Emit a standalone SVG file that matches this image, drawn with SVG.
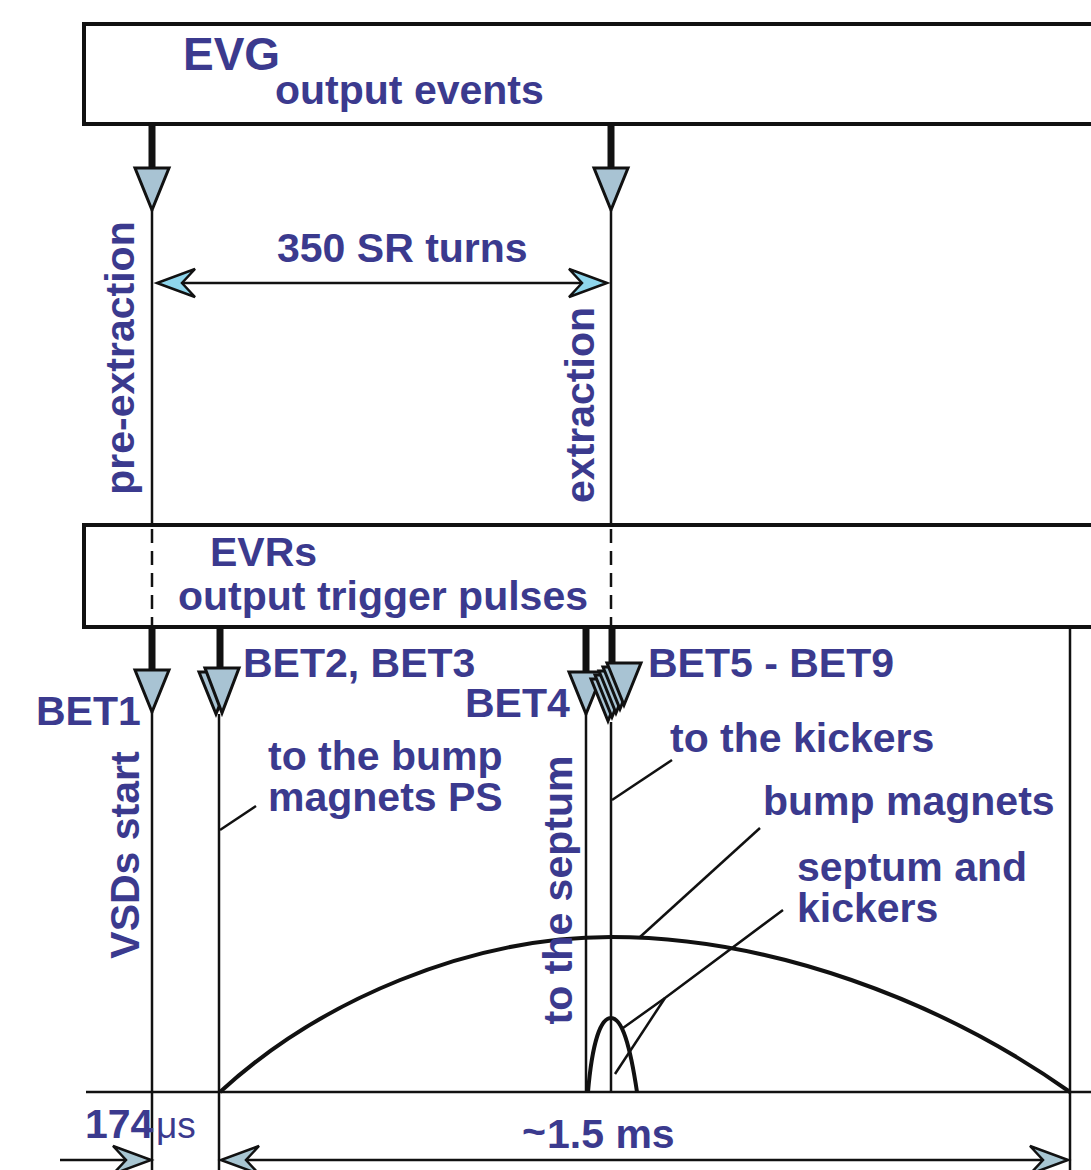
<svg xmlns="http://www.w3.org/2000/svg" xmlns:xlink="http://www.w3.org/1999/xlink" width="1091" height="1170" viewBox="0 0 1091 1170">
<style>
.t{font-family:"Liberation Sans",Arial,sans-serif;font-weight:bold;fill:#3b3a8e;font-size:41px}
.ttl{font-size:46px}
.box{fill:#fff;stroke:#111;stroke-width:4}
.thin{stroke:#111;stroke-width:2.5;fill:none}
.stem{stroke:#111;stroke-width:7;fill:none}
.dash{stroke:#111;stroke-width:2.5;stroke-dasharray:14 8;fill:none}
.tri{fill:#a8c3d3;stroke:#111;stroke-width:3;stroke-linejoin:miter}
.barb{fill:#8fd6ec;stroke:#111;stroke-width:2.5}
.barb2{fill:#a8c6d2;stroke:#111;stroke-width:2.5}
.curve{stroke:#111;stroke-width:4;fill:none}
</style>
<defs>
<path id="tri" d="M-17,0 L17,0 L0,42 Z"/>
<path id="barb" d="M0,0 L-38,-14 L-25,0 L-38,14 Z"/>
</defs>

<g id="evg">
<rect class="box" x="84" y="24" width="1020" height="100"/>
<text class="t ttl" x="183" y="70">EVG</text>
<text class="t" x="275" y="104" font-size="38">output events</text>
</g>

<g id="evrs">
<rect class="box" x="84" y="525" width="1020" height="102"/>
<text class="t" x="210" y="566" font-size="43">EVRs</text>
<text class="t" x="178" y="610" font-size="38">output trigger pulses</text>
</g>

<g id="connectors">
<line class="stem" x1="152" y1="124" x2="152" y2="170"/>
<use href="#tri" class="tri" transform="translate(152,168)"/>
<line class="thin" x1="152" y1="210" x2="152" y2="525"/>
<line class="stem" x1="611" y1="124" x2="611" y2="170"/>
<use href="#tri" class="tri" transform="translate(611,168)"/>
<line class="thin" x1="611" y1="210" x2="611" y2="525"/>
<line class="dash" x1="152" y1="529" x2="152" y2="625"/>
<line class="dash" x1="611" y1="529" x2="611" y2="625"/>
<line class="thin" x1="170" y1="283" x2="595" y2="283"/>
<use href="#barb" class="barb" transform="translate(157,283) rotate(180)"/>
<use href="#barb" class="barb" transform="translate(607,283)"/>

<line class="stem" x1="152" y1="627" x2="152" y2="672"/>
<use href="#tri" class="tri" transform="translate(152,670)"/>
<line class="thin" x1="152" y1="712" x2="152" y2="1170"/>

<line class="stem" x1="220" y1="627" x2="220" y2="670"/>
<use href="#tri" class="tri" transform="translate(216,672)"/>
<use href="#tri" class="tri" transform="translate(222,668) scale(1,1.07)"/>
<line class="thin" x1="219" y1="714" x2="219" y2="1170"/>

<line class="stem" x1="586" y1="627" x2="586" y2="674"/>
<use href="#tri" class="tri" transform="translate(586,672)"/>
<line class="stem" x1="612" y1="627" x2="612" y2="664"/>
<use href="#tri" class="tri" transform="translate(608,679)"/>
<use href="#tri" class="tri" transform="translate(612,675)"/>
<use href="#tri" class="tri" transform="translate(616,671)"/>
<use href="#tri" class="tri" transform="translate(620,667)"/>
<use href="#tri" class="tri" transform="translate(624,663)"/>
<line class="thin" x1="586" y1="714" x2="586" y2="1092"/>
<line class="thin" x1="611" y1="722" x2="611" y2="1092"/>

<line class="thin" x1="1070" y1="627" x2="1070" y2="1170"/>

<line class="thin" x1="86" y1="1092" x2="1091" y2="1092" stroke-width="3"/>

<path class="curve" d="M220,1092 C320,1000 470,937 611,937 C770,937 940,1000 1070,1092"/>
<path class="curve" d="M588,1092 C592,1045 600,1018 611,1018 C622,1018 630,1045 637,1092"/>

<line class="thin" x1="220" y1="830" x2="256" y2="806"/>
<line class="thin" x1="612" y1="800" x2="672" y2="760"/>
<line class="thin" x1="640" y1="937" x2="760" y2="828"/>
<polyline class="thin" points="783,910 665,998 623,1028"/>
<line class="thin" x1="665" y1="998" x2="615" y2="1074"/>

<line class="thin" x1="60" y1="1160" x2="140" y2="1160" stroke-width="3"/>
<use href="#barb" class="barb2" transform="translate(151,1160)"/>
<line class="thin" x1="232" y1="1160" x2="1058" y2="1160" stroke-width="3"/>
<use href="#barb" class="barb2" transform="translate(221,1160) rotate(180)"/>
<use href="#barb" class="barb2" transform="translate(1068,1160)"/>
</g>

<g id="labels">
<text class="t" x="277" y="262" font-size="39">350 SR turns</text>
<text class="t" transform="translate(134,358) rotate(-90)" text-anchor="middle" font-size="40">pre-extraction</text>
<text class="t" transform="translate(594,405) rotate(-90)" text-anchor="middle" font-size="40">extraction</text>
<text class="t" x="36" y="725" font-size="40">BET1</text>
<text class="t" x="243" y="677" font-size="40">BET2, BET3</text>
<text class="t" x="465" y="717" font-size="40">BET4</text>
<text class="t" x="648" y="677" font-size="40">BET5 - BET9</text>
<text class="t" transform="translate(139,855) rotate(-90)" text-anchor="middle" font-size="41">VSDs start</text>
<text class="t" x="268" y="770" font-size="33">to the bump</text>
<text class="t" x="268" y="811" font-size="33">magnets PS</text>
<text class="t" x="670" y="752" font-size="38">to the kickers</text>
<text class="t" x="763" y="815" font-size="38">bump magnets</text>
<text class="t" x="797" y="881" font-size="33">septum and</text>
<text class="t" x="797" y="922" font-size="33">kickers</text>
<text class="t" transform="translate(572,890) rotate(-90)" text-anchor="middle" font-size="39">to the septum</text>
<text class="t" x="85" y="1138" font-size="35">174</text>
<text x="156" y="1138" font-family="Liberation Sans,Arial,sans-serif" font-size="37" fill="#3b3a8e">μs</text>
<text class="t" x="522" y="1145" font-size="22">~</text>
<text class="t" x="547" y="1148" font-size="38">1.5 ms</text>
</g>
</svg>
